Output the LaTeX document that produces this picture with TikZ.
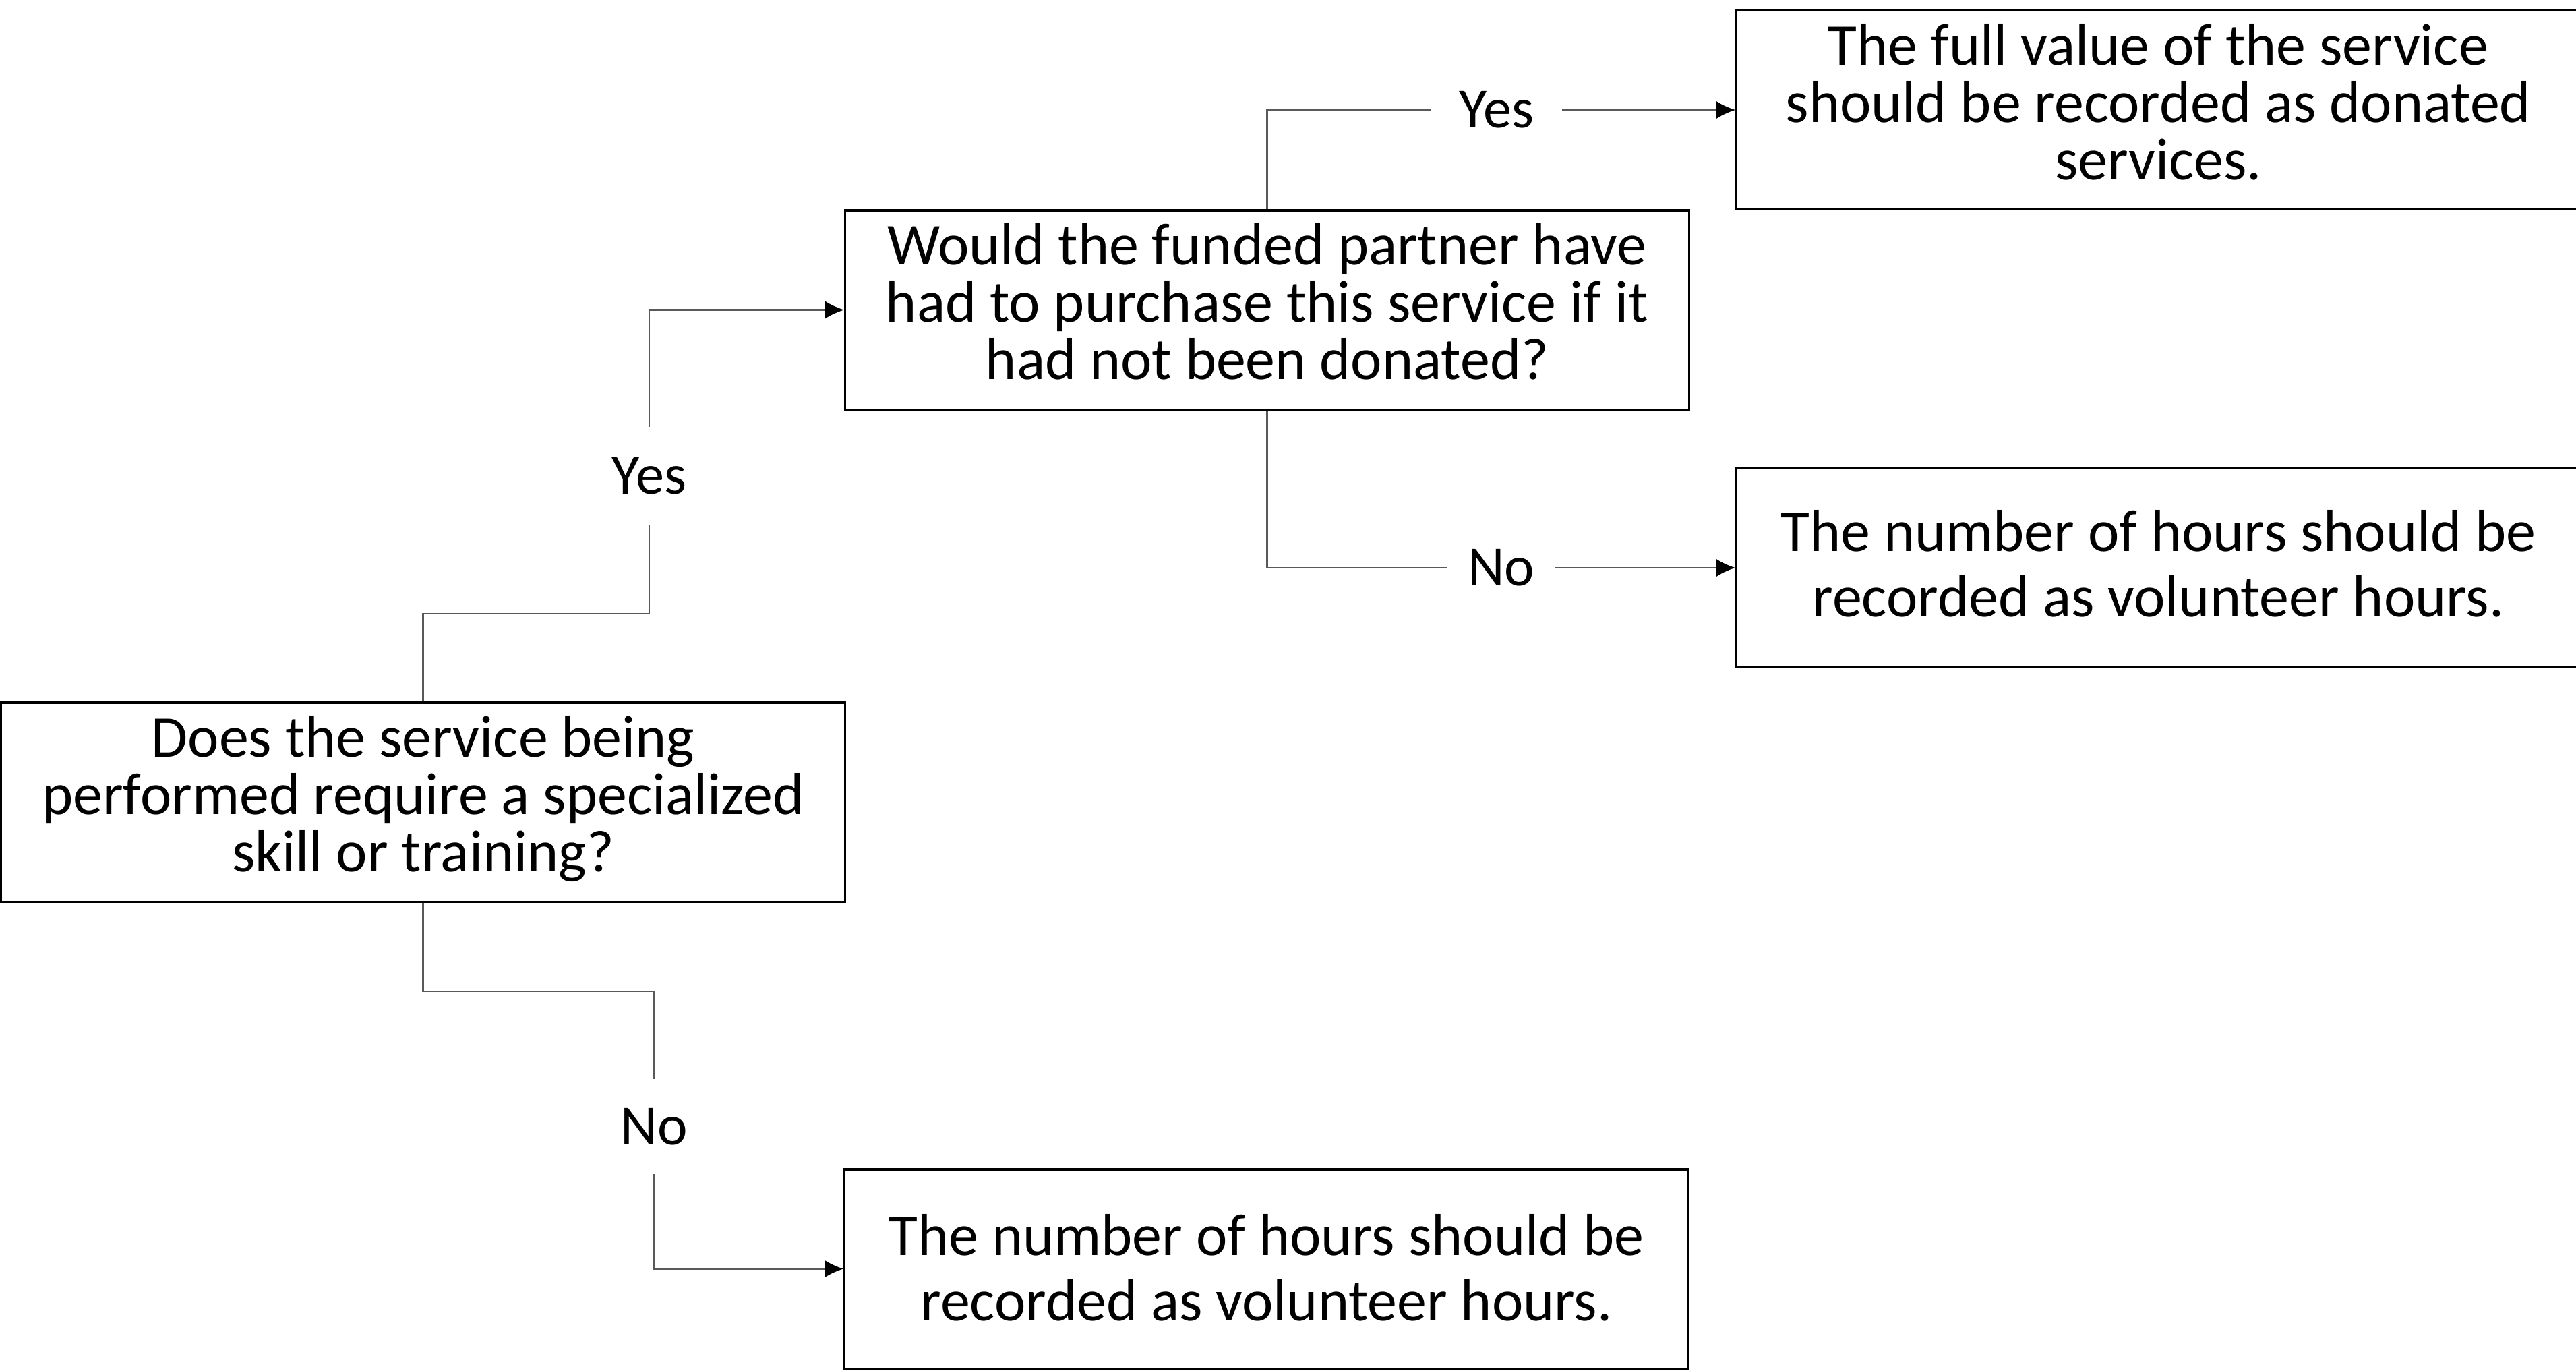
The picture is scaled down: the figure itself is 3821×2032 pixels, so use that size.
\documentclass[tikz,border=0pt]{standalone}
\usepackage{fontspec}
\setmainfont{Carlito}
\usetikzlibrary{arrows.meta}
\begin{document}
\begin{tikzpicture}[x=0.01cm,y=-0.01cm,
  box/.style={draw=black,line width=0.9pt,minimum width=12.51cm,minimum height=2.95cm,inner sep=0pt},
  three/.style={inner sep=0pt,align=center,font=\fontsize{25}{24.2}\selectfont},
  two/.style={inner sep=0pt,align=center,font=\fontsize{25}{27.6}\selectfont},
  lab/.style={inner sep=0pt,font=\fontsize{24}{26}\selectfont},
  conn/.style={draw=black!65,line width=0.6pt},
  arr/.style={conn,-{Latex[length=0.28cm,width=0.26cm,black]}}]
\useasboundingbox (0,0) rectangle (3821,2032);
\clip (0,0) rectangle (3821,2032);
% boxes
\node[box] (A) at (627.5,1189.5) {};
\node[box] (B) at (1879.5,459.5) {};
\node[box] (C) at (3201.5,163) {};
\node[box] (D) at (3201.5,842) {};
\node[box] (E) at (1878.5,1881.5) {};
% box texts
\node[three] (At) at ([yshift=0.05cm]A.center) {Does the service being\\performed require a specialized\\skill or training?};
\node[three] (Bt) at ([yshift=0.12cm]B.center) {Would the funded partner have\\had to purchase this service if it\\had not been donated?};
\node[three] (Ct) at ([yshift=0.12cm]C.center) {The full value of the service\\should be recorded as donated\\services.};
\node[two] (Dt) at ([yshift=0.06cm]D.center) {The number of hours should be\\recorded as volunteer hours.};
\node[two] (Et) at ([yshift=0.02cm]E.center) {The number of hours should be\\recorded as volunteer hours.};
% labels
\node[lab,minimum height=1.44cm] (yes1) at (963,706) {Yes};
\node[lab,minimum width=1.92cm] (yes2) at (2220,163) {Yes};
\node[lab,minimum width=1.57cm] (no1) at (2226.5,842) {No};
\node[lab,minimum height=1.39cm] (no2) at (970,1670.5) {No};
% helper coordinates
\coordinate (k1) at (800,910);
\coordinate (k2) at (800,1470);
% connectors
\draw[conn] (A.north) |- (k1) -| (yes1.south);
\draw[arr] (yes1.north) |- (B.west);
\draw[conn] (B.north) |- (yes2.west);
\draw[arr] (yes2.east) -- (C.west);
\draw[conn] (B.south) |- (no1.west);
\draw[arr] (no1.east) -- (D.west);
\draw[conn] (A.south) |- (k2) -| (no2.north);
\draw[arr] (no2.south) |- (E.west);
\end{tikzpicture}
\end{document}
